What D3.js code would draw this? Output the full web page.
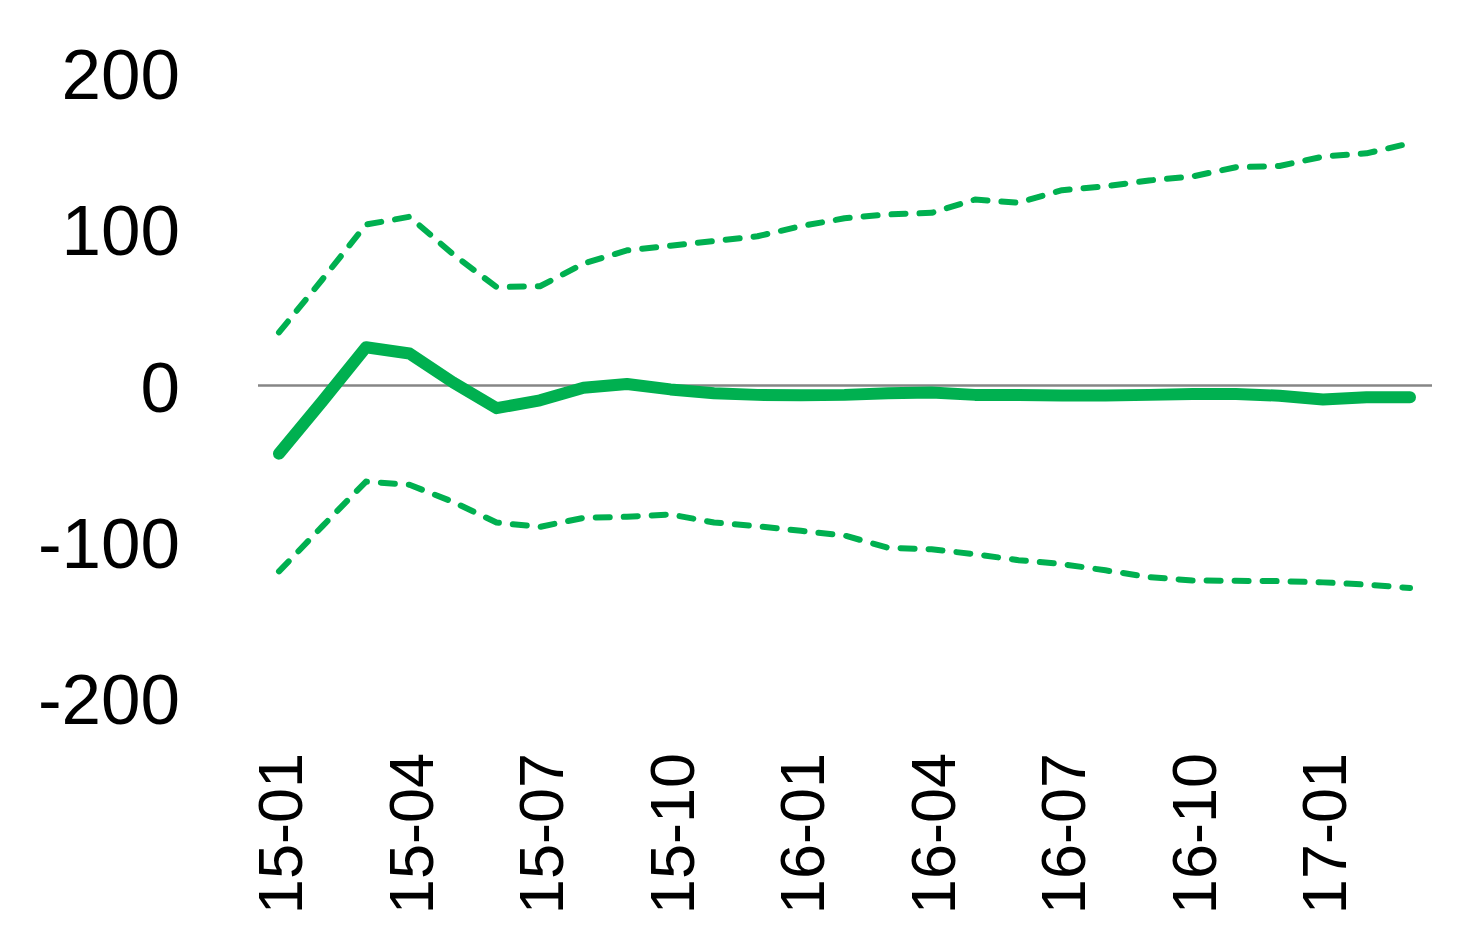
<!DOCTYPE html>
<html><head><meta charset="utf-8">
<script src="https://cdn.jsdelivr.net/npm/d3@7"></script>
<style>html,body{margin:0;padding:0;background:#fff;}</style>
</head><body>
<svg id="chart" width="1482" height="947"></svg>
<script>
const months = ["15-01","15-02","15-03","15-04","15-05","15-06","15-07","15-08","15-09","15-10","15-11","15-12",
  "16-01","16-02","16-03","16-04","16-05","16-06","16-07","16-08","16-09","16-10","16-11","16-12",
  "17-01","17-02","17-03"];
const central = [-43.6,-10,24.5,20.5,2,-14.5,-9.5,-1.5,1,-2.5,-5,-6,-6.2,-6,-5,-4.5,-6,-6,-6.4,-6.4,-6,-5.5,-5.5,-6.5,-9,-7.5,-7.5];
const upper = [34,68,103,108,84,63,63.5,78,86.5,89.5,92.5,95.5,102,107,109.5,110.5,119,117,125,127.5,131.2,133.8,139.7,140.5,146.5,148.6,155];
const lower = [-119,-90,-61.5,-63.5,-74.5,-87.7,-90.5,-84.7,-84,-82.5,-87.7,-90,-93,-96,-103.8,-104.8,-108,-111.8,-114.3,-118.3,-122.6,-124.8,-125,-125.2,-126,-127.4,-129.6];
const yTicks = [-200,-100,0,100,200];
const xTickLabels = ["15-01","15-04","15-07","15-10","16-01","16-04","16-07","16-10","17-01"];

const svg = d3.select("#chart");
const x = d3.scalePoint().domain(months).range([279, 1410]);
const y = d3.scaleLinear().domain([-200, 200]).range([698, 73]);
const green = "#00B050";
const font = "'Liberation Sans', Arial, sans-serif";

// zero line
svg.append("line")
  .attr("x1", 258).attr("x2", 1432)
  .attr("y1", y(0)).attr("y2", y(0))
  .attr("stroke", "#868686").attr("stroke-width", 2.5);

// y axis labels
const yAxis = d3.axisLeft(y).tickValues(yTicks).tickSize(0).tickPadding(0).tickFormat(d => String(d));
const gy = svg.append("g").attr("transform", "translate(180,0)").call(yAxis);
gy.select(".domain").remove();
gy.selectAll("text").attr("font-family", font).attr("font-size", 71).attr("fill", "#000")
  .attr("dy", "0.36em");

// x axis labels
const xAxis = d3.axisBottom(x).tickValues(xTickLabels).tickSize(0).tickPadding(0);
const gx = svg.append("g").attr("transform", "translate(0,753)").call(xAxis);
gx.select(".domain").remove();
gx.selectAll("text")
  .attr("font-family", font).attr("font-size", 63).attr("fill", "#000")
  .attr("text-anchor", "end")
  .attr("transform", "rotate(-90)")
  .attr("x", 0).attr("y", 0).attr("dy", "0.36em");

const line = d3.line().x((d, i) => x(months[i])).y(d => y(d));

svg.append("path").datum(upper).attr("d", line)
  .attr("fill", "none").attr("stroke", green).attr("stroke-width", 6)
  .attr("stroke-dasharray", "14,14").attr("stroke-linecap", "round").attr("stroke-linejoin", "round");
svg.append("path").datum(lower).attr("d", line)
  .attr("fill", "none").attr("stroke", green).attr("stroke-width", 6)
  .attr("stroke-dasharray", "14,14").attr("stroke-linecap", "round").attr("stroke-linejoin", "round");
svg.append("path").datum(central).attr("d", line)
  .attr("fill", "none").attr("stroke", green).attr("stroke-width", 12)
  .attr("stroke-linecap", "round").attr("stroke-linejoin", "round");
</script>
</body></html>
